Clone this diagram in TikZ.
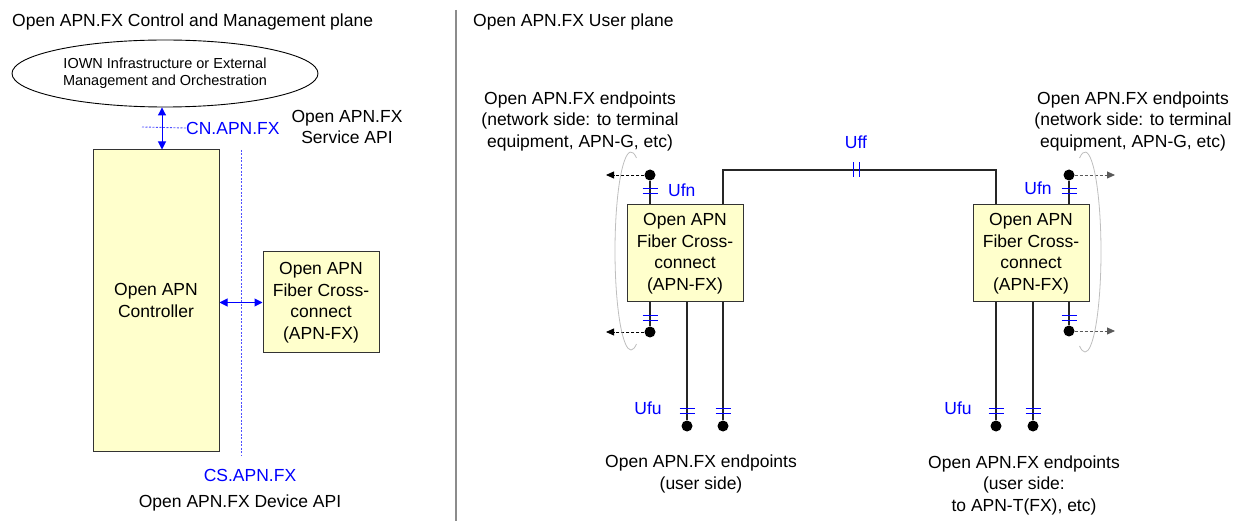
\documentclass[tikz,border=0pt]{standalone}
\usepackage{fontspec}
\setmainfont{Liberation Sans}
\usetikzlibrary{arrows.meta,shapes,calc}
\definecolor{boxfill}{RGB}{255,255,204}
\definecolor{boxline}{RGB}{51,51,51}
\definecolor{apiblue}{RGB}{0,0,255}
\definecolor{lightblue}{RGB}{80,80,255}
\definecolor{bracket}{RGB}{190,190,190}
\definecolor{divider}{RGB}{140,140,140}
\tikzset{
  hbar/.pic={\draw[apiblue, line width=0.7pt] (-7.5,2.5) -- (7.5,2.5) (-7.5,-2.5) -- (7.5,-2.5);},
  vbar/.pic={\draw[apiblue, line width=0.7pt] (-3,7.5) -- (-3,-7.5) (3,7.5) -- (3,-7.5);}
}

\begin{document}
\begin{tikzpicture}[x=1pt,y=1pt,
    txt/.style={font=\fontsize{17.5}{21.5}\selectfont, inner sep=0pt, align=center},
    api/.style={txt, text=apiblue},
    fx/.style={txt, draw=boxline, fill=boxfill, line width=1pt, minimum width=116pt, minimum height=97pt},
    endpt/.style={circle, fill=black, inner sep=0pt, minimum size=11pt},
    fiber/.style={line width=1.1pt, draw=black!85},
    apiarrow/.style={{Triangle[width=8pt,length=8pt]}-{Triangle[width=8pt,length=8pt]}, draw=apiblue, line width=1pt},
    apidash/.style={draw=lightblue, line width=0.9pt, dash pattern=on 2pt off 1.5pt},
    netarrow/.style={-{Triangle[width=7pt,length=8pt]}, line width=0.8pt, dash pattern=on 3pt off 2pt},
    bracketline/.style={draw=bracket, line width=0.8pt}
    ]
  \useasboundingbox (0,0) rectangle (1235,-521);

  % control and management plane
  \node[txt, anchor=base west] (cmtitle) at (12,-27) {Open APN.FX Control and Management plane};
  \draw[divider, line width=1.2pt] (456,-10) -- (456,-521);
  \node[draw, ellipse, line width=0.9pt, minimum width=306pt, minimum height=67pt, inner sep=0pt,
        font=\fontsize{14.5}{17}\selectfont, align=center] (iown) at (165,-73.5)
        {IOWN Infrastructure or External\\Management and Orchestration\vphantom{p}};
  \node[fx, minimum width=126pt, minimum height=301pt] (ctrl) at (156,-300.5) {Open APN\\Controller};
  \node[fx, minimum height=101pt] (fxc) at (321,-302.5) {Open APN\\Fiber Cross-\\connect\\(APN-FX)};

  \coordinate (cnx) at (162,0);
  \coordinate (cnstart) at (142,-127);
  \node[api, anchor=west] (cnlbl) at (186,-128) {CN.APN.FX};
  \draw[apidash] (cnstart) -- (cnlbl.west);
  \draw[apiarrow] (iown.south -| cnx) -- (ctrl.north -| cnx);
  \node[txt] (svcapi) at (347,-127) {Open APN.FX\\Service API};

  \coordinate (cstop) at (241,-150);
  \coordinate (csbot) at (241,-456);
  \draw[apidash] (cstop) -- (csbot);
  \draw[apiarrow] (ctrl.east |- fxc.west) -- (fxc.west);
  \node[api] (cslbl) at (250,-475) {CS.APN.FX};
  \node[txt] (devapi) at (240,-503) {Open APN.FX Device API};

  % user plane
  \node[txt, anchor=base west] (uptitle) at (473,-27) {Open APN.FX User plane};
  \node[fx] (fxl) at (685,-253.5) {Open APN\\Fiber Cross-\\connect\\(APN-FX)};
  \node[fx] (fxr) at (1031,-253.5) {Open APN\\Fiber Cross-\\connect\\(APN-FX)};

  \node[endpt] (nl1) at (650,-175) {};
  \node[endpt] (nl2) at (650,-332) {};
  \node[endpt] (nr1) at (1069,-175) {};
  \node[endpt] (nr2) at (1069,-331) {};
  \node[endpt] (ul1) at (687,-426) {};
  \node[endpt] (ul2) at (723,-426) {};
  \node[endpt] (ur1) at (996,-426) {};
  \node[endpt] (ur2) at (1033,-426) {};

  \draw[fiber] (nl1) -- (fxl.north -| nl1);
  \draw[fiber] (nl2) -- (fxl.south -| nl2);
  \draw[fiber] (nr1) -- (fxr.north -| nr1);
  \draw[fiber] (nr2) -- (fxr.south -| nr2);
  \foreach \e in {ul1,ul2} \draw[fiber] (\e) -- (fxl.south -| \e);
  \foreach \e in {ur1,ur2} \draw[fiber] (\e) -- (fxr.south -| \e);

  \coordinate (uffmid) at (856,-170);
  \draw[fiber] (fxl.north -| ul2) |- (uffmid) -| (fxr.north -| ur1);
  \pic at (uffmid) {vbar};
  \node[api] (ufflbl) at (856,-142) {Uff};

  \pic at ($(nl1)+(0,-15.5)$) {hbar};
  \pic at ($(nr1)+(0,-15.5)$) {hbar};
  \pic at ($(nl2)+(0,14)$) {hbar};
  \pic at ($(nr2)+(0,13.5)$) {hbar};
  \foreach \e in {ul1,ul2,ur1,ur2} \pic at ($(\e)+(0,15.5)$) {hbar};

  \node[api, anchor=west] (ufnl) at (668,-190) {Ufn};
  \node[api] (ufnr) at (1038,-188) {Ufn};
  \node[api] (uful) at (648,-408) {Ufu};
  \node[api] (ufur) at (958,-408) {Ufu};

  \coordinate (al1) at (606,-175);
  \coordinate (al2) at (606,-332);
  \coordinate (ar1) at (1115,-175);
  \coordinate (ar2) at (1115,-331);
  \draw[netarrow] (nl1) -- (al1);
  \draw[netarrow] (nl2) -- (al2);
  \draw[netarrow, black!65] (nr1) -- (ar1);
  \draw[netarrow, black!65] (nr2) -- (ar2);

  \draw[bracketline] (631,-251) ++(70:16 and 99) arc[start angle=70, end angle=290, x radius=16, y radius=99];
  \draw[bracketline] (1085,-252) ++(110:16 and 100) arc[start angle=110, end angle=-110, x radius=16, y radius=100];

  \node[txt] (netl) at (580,-121) {Open APN.FX endpoints\\(network side: to terminal\\equipment, APN-G, etc)};
  \node[txt] (netr) at (1133,-121) {Open APN.FX endpoints\\(network side: to terminal\\equipment, APN-G, etc)};
  \node[txt] (usrl) at (701,-474) {Open APN.FX endpoints\\(user side)};
  \node[txt] (usrr) at (1024,-485) {Open APN.FX endpoints\\(user side:\\to APN-T(FX), etc)};
\end{tikzpicture}
\end{document}
